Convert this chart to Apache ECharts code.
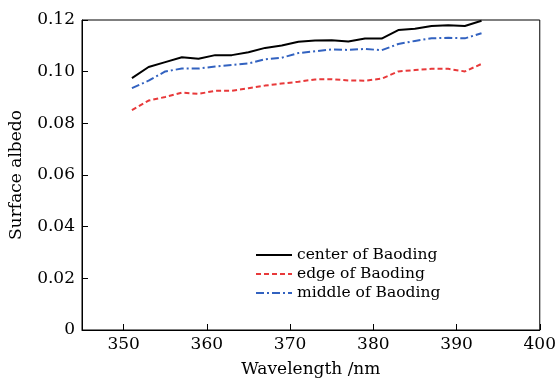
<!DOCTYPE html>
<html>
<head>
<meta charset="utf-8">
<script src="https://cdn.jsdelivr.net/npm/echarts@6/dist/echarts.min.js"></script>
<style>
  html, body { margin: 0; padding: 0; background: #fff; }
  #chart { width: 559px; height: 383px; }
</style>
</head>
<body>
<div id="chart"></div>
<script>
// 波长 351~393 nm, 步长 2
const wavelength = [351, 353, 355, 357, 359, 361, 363, 365, 367, 369, 371,
  373, 375, 377, 379, 381, 383, 385, 387, 389, 391, 393];
const centerData = [0.0975, 0.1018, 0.1037, 0.1056, 0.1050, 0.1064, 0.1064, 0.1075, 0.1092, 0.1101, 0.1116,
  0.1121, 0.1122, 0.1117, 0.1128, 0.1128, 0.1161, 0.1166, 0.1177, 0.1180, 0.1177, 0.1197];
const edgeData = [0.0851, 0.0888, 0.0902, 0.0919, 0.0914, 0.0926, 0.0926, 0.0936, 0.0946, 0.0954, 0.0961,
  0.0970, 0.0971, 0.0966, 0.0965, 0.0973, 0.1001, 0.1006, 0.1011, 0.1011, 0.1001, 0.1030];
const middleData = [0.0936, 0.0965, 0.1001, 0.1012, 0.1012, 0.1020, 0.1026, 0.1032, 0.1048, 0.1054, 0.1072,
  0.1079, 0.1086, 0.1084, 0.1088, 0.1083, 0.1107, 0.1119, 0.1129, 0.1131, 0.1129, 0.1149];
const xTicks = [350, 360, 370, 380, 390, 400];

const font = 'DejaVu Serif';
const chart = echarts.init(document.getElementById('chart'));

function pairs(ys) {
  return wavelength.map((x, i) => [x, ys[i]]);
}

const option = {
  animation: false,
  textStyle: { fontFamily: font },
  grid: {
    left: 80, right: 18, top: 20, bottom: 48,
    show: true, borderColor: '#000', borderWidth: 1, backgroundColor: 'transparent'
  },
  legend: {
    orient: 'vertical',
    left: 250,
    top: 242,
    itemWidth: 36,
    itemHeight: 10,
    itemGap: 3,
    itemStyle: { opacity: 0 },   // 只留线段，不要圆点
    textStyle: { fontFamily: font, fontSize: 15.5, color: '#000' },
    data: ['center of Baoding', 'edge of Baoding', 'middle of Baoding']
  },
  xAxis: {
    type: 'value',
    min: 345, max: 400,
    name: 'Wavelength /nm',
    nameLocation: 'middle',
    nameGap: 31,
    nameTextStyle: { fontFamily: font, fontSize: 17, color: '#000' },
    splitLine: { show: false },
    axisLine: { lineStyle: { color: '#000', width: 1 } },
    axisTick: { inside: true, length: 6, customValues: xTicks, lineStyle: { color: '#000' } },
    axisLabel: { customValues: xTicks, color: '#000', fontSize: 17, margin: 6, fontFamily: font }
  },
  yAxis: {
    type: 'value',
    min: 0, max: 0.12, interval: 0.02,
    name: 'Surface albedo',
    nameLocation: 'middle',
    nameGap: 57,
    nameTextStyle: { fontFamily: font, fontSize: 17, color: '#000' },
    splitLine: { show: false },
    axisLine: { show: true, lineStyle: { color: '#000', width: 1 } },
    axisTick: { show: true, inside: true, length: 6, lineStyle: { color: '#000' } },
    axisLabel: {
      color: '#000', fontSize: 17, margin: 7, fontFamily: font,
      formatter: v => (v === 0 ? '0' : v.toFixed(2))
    }
  },
  series: [
    {
      name: 'center of Baoding', type: 'line', symbol: 'none',
      lineStyle: { color: '#000', width: 2, type: 'solid' },
      itemStyle: { color: '#000' },
      data: pairs(centerData)
    },
    {
      name: 'edge of Baoding', type: 'line', symbol: 'none',
      lineStyle: { color: '#e8393a', width: 2, type: [5, 3] },
      itemStyle: { color: '#e8393a' },
      data: pairs(edgeData)
    },
    {
      name: 'middle of Baoding', type: 'line', symbol: 'none',
      lineStyle: { color: '#3262c0', width: 2, type: [8, 3, 2, 3] },
      itemStyle: { color: '#3262c0' },
      data: pairs(middleData)
    }
  ]
};
chart.setOption(option);
</script>
</body>
</html>
